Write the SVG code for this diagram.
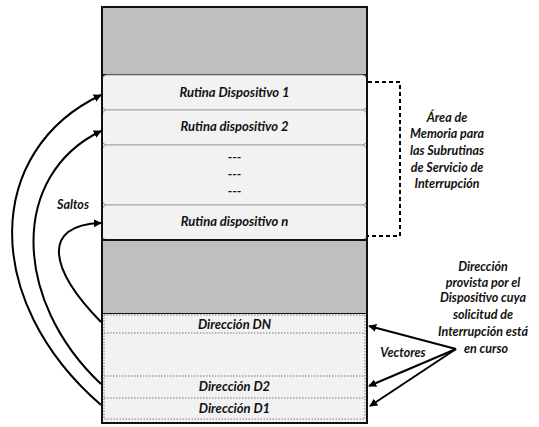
<svg xmlns="http://www.w3.org/2000/svg" width="539" height="427" viewBox="0 0 539 427">
<style>
  text { font-family: Lato, "Liberation Sans", Arial, sans-serif; font-weight: bold; font-style: italic; font-size: 12.5px; fill: #111; text-anchor: middle; }
  text.lbl { font-size: 13px; }
  .gray { fill: #bfbfbf; stroke: #111; stroke-width: 2; }
  .rut { fill: #f2f2f2; stroke: #a6a6a6; stroke-width: 1.2; }
  .dot { fill: none; stroke: #777; stroke-width: 1; stroke-dasharray: 1.5 1.5; }
  .conn { fill: none; stroke: #000; stroke-width: 2; }
</style>
<defs>
  <marker id="ah" viewBox="0 0 10 10" refX="9" refY="5" markerWidth="4" markerHeight="4" orient="auto" markerUnits="strokeWidth">
    <path d="M0,0 L10,5 L0,10 z" fill="#000"/>
  </marker>
</defs>
<rect width="539" height="427" fill="#fff"/>

<g id="top-block">
  <rect class="gray" x="102" y="7" width="265" height="68"/>
</g>

<g id="rutina-1">
  <rect class="rut" x="102" y="75" width="265" height="35" rx="5"/>
  <text class="lbl" x="234.5" y="97">Rutina Dispositivo 1</text>
</g>
<g id="rutina-2">
  <rect class="rut" x="102" y="110" width="265" height="35" rx="5"/>
  <text class="lbl" x="234.5" y="131">Rutina dispositivo 2</text>
</g>
<g id="rutina-dots">
  <rect class="rut" x="102" y="145" width="265" height="60" rx="5"/>
  <text class="lbl" x="234.5" y="162">---</text>
  <text class="lbl" x="234.5" y="179">---</text>
  <text class="lbl" x="234.5" y="196">---</text>
</g>
<g id="rutina-n">
  <rect class="rut" x="102" y="205" width="265" height="35" rx="5"/>
  <text class="lbl" x="234.5" y="226">Rutina dispositivo n</text>
</g>

<g id="mid-block">
  <rect class="gray" x="102" y="240" width="265" height="74"/>
</g>

<g id="vectores-area">
  <rect x="103" y="314" width="263" height="108" fill="#f2f2f2"/>
  <rect class="dot" x="104" y="315" width="261" height="104"/>
  <line class="dot" x1="104" y1="333" x2="365" y2="333"/>
  <line class="dot" x1="104" y1="376" x2="365" y2="376"/>
  <line class="dot" x1="104" y1="398" x2="365" y2="398"/>
  <text class="lbl" x="234.5" y="329">Dirección DN</text>
  <text class="lbl" x="234.5" y="391">Dirección D2</text>
  <text class="lbl" x="234.5" y="413">Dirección D1</text>
</g>

<g id="outer-frame">
  <rect x="102" y="7" width="265" height="416" fill="none" stroke="#111" stroke-width="2"/>
</g>

<g id="area-memoria">
  <path d="M368,82 H400 V236 H368" fill="none" stroke="#000" stroke-width="2" stroke-dasharray="4 3"/>
  <text x="447" y="122">Área de</text>
  <text x="447" y="138">Memoria para</text>
  <text x="447" y="155">las Subrutinas</text>
  <text x="447" y="172">de Servicio de</text>
  <text x="447" y="188">Interrupción</text>
</g>

<g id="nota-direccion">
  <text x="483" y="271">Dirección</text>
  <text x="483" y="287">provista por el</text>
  <text x="483" y="302">Dispositivo cuya</text>
  <text x="483" y="319">solicitud de</text>
  <text x="483" y="336">Interrupción está</text>
  <text x="486" y="353">en curso</text>
</g>

<g id="connectors">
  <path class="conn" marker-end="url(#ah)" d="M101,405 C-20,300 -15,150 101,95"/>
  <path class="conn" marker-end="url(#ah)" d="M101,384 C12,300 10,175 101,131"/>
  <path class="conn" marker-end="url(#ah)" d="M101,322 C50,270 40,225 101,223"/>
  <path class="conn" marker-end="url(#ah)" d="M456,349 L369,326"/>
  <path class="conn" marker-end="url(#ah)" d="M456,349 L369,386"/>
  <path class="conn" marker-end="url(#ah)" d="M456,349 L370,406"/>
  <text x="73" y="209">Saltos</text>
  <text x="403" y="357">Vectores</text>
</g>
</svg>
